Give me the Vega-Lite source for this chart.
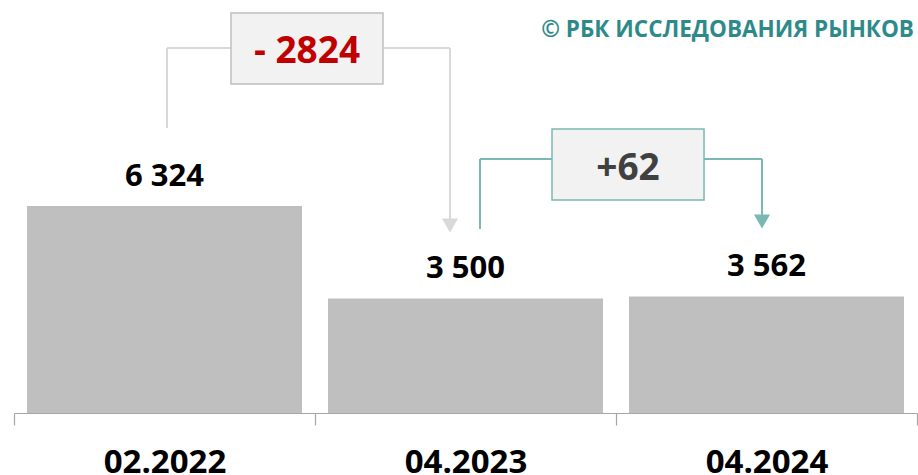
{
  "$schema": "https://vega.github.io/schema/vega-lite/v6.json",
  "autosize": "none",
  "width": 903,
  "height": 413,
  "padding": {"left": 14, "top": 0, "right": 1, "bottom": 62},
  "background": "#FFFFFF",
  "config": {"view": {"stroke": null}, "font": "Open Sans"},
  "datasets": {
    "bars": [
      {"period": "02.2022", "value": 6324, "label": "6 324"},
      {"period": "04.2023", "value": 3500, "label": "3 500"},
      {"period": "04.2024", "value": 3562, "label": "3 562"}
    ],
    "segments": [
      {"link": "decline", "u": 0.5083, "u2": 0.5083, "v": 8707, "v2": 11151},
      {"link": "decline", "u": 0.5083, "u2": 0.7209, "v": 11151, "v2": 11151},
      {"link": "decline", "u": 1.2259, "u2": 1.4485, "v": 11151, "v2": 11151},
      {"link": "decline", "u": 1.4485, "u2": 1.4485, "v": 11151, "v2": 5728},
      {"link": "growth", "u": 1.5482, "u2": 1.5482, "v": 5621, "v2": 7760},
      {"link": "growth", "u": 1.5482, "u2": 1.7874, "v": 7760, "v2": 7760},
      {"link": "growth", "u": 2.2924, "u2": 2.485, "v": 7760, "v2": 7760},
      {"link": "growth", "u": 2.485, "u2": 2.485, "v": 7760, "v2": 5850}
    ],
    "arrows": [
      {"link": "decline", "u": 1.4485, "v": 5728},
      {"link": "growth", "u": 2.485, "v": 5850}
    ],
    "boxes": [
      {"link": "decline", "u": 0.7209, "u2": 1.2259, "v": 12220, "v2": 10051, "tu": 0.9734, "tv": 10693, "text": "- 2824"},
      {"link": "growth", "u": 1.7874, "u2": 2.2924, "v": 8676, "v2": 6507, "tu": 2.0399, "tv": 7118, "text": "+62"}
    ],
    "credit": [
      {"u": 2.99, "v": 11487, "text": "© РБК ИССЛЕДОВАНИЯ РЫНКОВ"}
    ]
  },
  "layer": [
    {
      "data": {"name": "bars"},
      "encoding": {
        "x": {
          "field": "period", "type": "nominal", "sort": null,
          "scale": {"paddingInner": 0, "paddingOuter": 0},
          "axis": {
            "title": null, "labelAngle": 0, "orient": "bottom",
            "labelFont": "Open Sans", "labelFontSize": 33, "labelFontWeight": "bold",
            "labelColor": "#000000", "labelBaseline": "alphabetic", "labelPadding": 47,
            "tickBand": "extent", "tickSize": 12, "tickColor": "#A6A6A6", "tickWidth": 1.2,
            "domainColor": "#A6A6A6", "domainWidth": 1.2, "grid": false
          }
        },
        "y": {
          "field": "value", "type": "quantitative",
          "scale": {"domain": [0, 12618], "nice": false, "zero": true},
          "axis": null
        }
      },
      "layer": [
        {"mark": {"type": "bar", "color": "#BFBFBF", "width": {"band": 0.9136}}},
        {
          "mark": {"type": "text", "baseline": "alphabetic", "dy": -20, "fontSize": 31, "fontWeight": "bold", "font": "Open Sans", "color": "#000000"},
          "encoding": {"text": {"field": "label"}}
        }
      ]
    },
    {
      "layer": [
        {
          "data": {"name": "segments"},
          "mark": {"type": "rule", "strokeWidth": 2},
          "encoding": {
            "x": {"field": "u", "type": "quantitative", "scale": {"domain": [0, 3], "nice": false, "zero": false}, "axis": null},
            "x2": {"field": "u2"},
            "y": {"field": "v", "type": "quantitative"},
            "y2": {"field": "v2"},
            "color": {"field": "link", "type": "nominal", "scale": {"domain": ["decline", "growth"], "range": ["#D9D9D9", "#7AB8B4"]}, "legend": null}
          }
        },
        {
          "data": {"name": "arrows"},
          "mark": {"type": "point", "shape": "triangle-down", "filled": true, "size": 260, "opacity": 1},
          "encoding": {
            "x": {"field": "u", "type": "quantitative"},
            "y": {"field": "v", "type": "quantitative"},
            "color": {"field": "link", "type": "nominal", "scale": {"domain": ["decline", "growth"], "range": ["#D9D9D9", "#7AB8B4"]}, "legend": null}
          }
        },
        {
          "data": {"name": "boxes"},
          "mark": {"type": "rect", "fill": "#F2F2F2", "strokeWidth": 1.5},
          "encoding": {
            "x": {"field": "u", "type": "quantitative"},
            "x2": {"field": "u2"},
            "y": {"field": "v", "type": "quantitative"},
            "y2": {"field": "v2"},
            "stroke": {"field": "link", "type": "nominal", "scale": {"domain": ["decline", "growth"], "range": ["#BFBFBF", "#7AB8B4"]}, "legend": null}
          }
        },
        {
          "data": {"name": "boxes"},
          "mark": {"type": "text", "baseline": "alphabetic", "align": "center", "fontSize": 37, "fontWeight": "bold", "font": "Open Sans"},
          "encoding": {
            "x": {"field": "tu", "type": "quantitative"},
            "y": {"field": "tv", "type": "quantitative"},
            "text": {"field": "text"},
            "color": {"field": "link", "type": "nominal", "scale": {"domain": ["decline", "growth"], "range": ["#C00000", "#404040"]}, "legend": null}
          }
        },
        {
          "data": {"name": "credit"},
          "mark": {"type": "text", "baseline": "alphabetic", "align": "right", "fontSize": 22.5, "fontWeight": "bold", "font": "Open Sans", "color": "#2E8A8A"},
          "encoding": {
            "x": {"field": "u", "type": "quantitative"},
            "y": {"field": "v", "type": "quantitative"},
            "text": {"field": "text"}
          }
        }
      ],
      "resolve": {"scale": {"color": "independent", "stroke": "independent"}}
    }
  ],
  "resolve": {"scale": {"x": "independent", "color": "independent", "stroke": "independent"}}
}
